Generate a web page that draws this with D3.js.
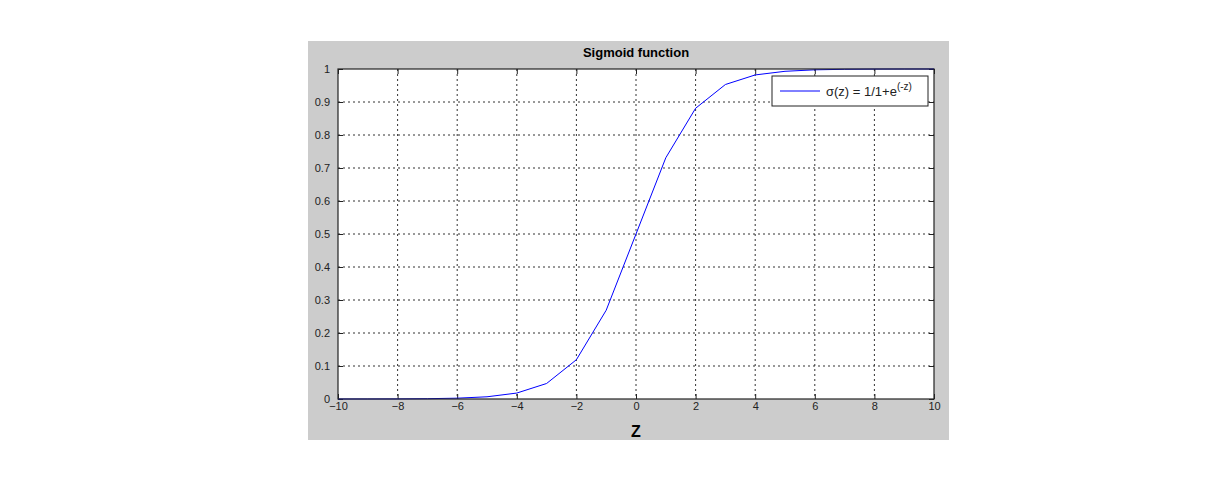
<!DOCTYPE html>
<html><head><meta charset="utf-8">
<script src="https://cdn.jsdelivr.net/npm/d3@7"></script>
<style>body{margin:0;background:#fff}svg{display:block}</style>
</head><body>
<svg id="c" width="1222" height="486"></svg>
<script>
var zValues = [-10,-9,-8,-7,-6,-5,-4,-3,-2,-1,0,1,2,3,4,5,6,7,8,9,10];
var sigValues = [0.00005,0.0001,0.0003,0.0009,0.0025,0.0067,0.018,0.047,0.119,0.269,0.5,0.731,0.881,0.953,0.982,0.993,0.9975,0.9991,0.9997,0.9999,0.99995];
var xTicks = [-10,-8,-6,-4,-2,0,2,4,6,8,10];
var yTicks = [0,0.1,0.2,0.3,0.4,0.5,0.6,0.7,0.8,0.9,1];

var svg = d3.select('#c');
var L = 338, R = 934, T = 69, B = 399;
var x = d3.scaleLinear().domain([-10,10]).range([L,R]);
var y = d3.scaleLinear().domain([0,1]).range([B,T]);

svg.append('rect').attr('x',308).attr('y',41).attr('width',641).attr('height',399).attr('fill','#cccccc');
svg.append('rect').attr('x',L).attr('y',T).attr('width',R-L).attr('height',B-T).attr('fill','#fff');

var grid = svg.append('g').attr('stroke','#333').attr('stroke-dasharray','2,3').attr('stroke-width',1);
xTicks.slice(1,-1).forEach(function(t){
  grid.append('line').attr('x1',x(t)).attr('x2',x(t)).attr('y1',T).attr('y2',B);
});
yTicks.slice(1,-1).forEach(function(t){
  grid.append('line').attr('x1',L).attr('x2',R).attr('y1',y(t)).attr('y2',y(t));
});

var font = 'Liberation Sans, Arial, sans-serif';
var xa = svg.append('g').attr('transform','translate(0,'+B+')')
  .call(d3.axisBottom(x).tickValues(xTicks).tickSize(-5).tickPadding(9).tickFormat(d3.format('d')));
var xt = svg.append('g').attr('transform','translate(0,'+T+')')
  .call(d3.axisTop(x).tickValues(xTicks).tickSize(-5).tickFormat(''));
var ya = svg.append('g').attr('transform','translate('+L+',0)')
  .call(d3.axisLeft(y).tickValues(yTicks).tickSize(-5).tickPadding(8).tickFormat(function(d){return d===0||d===1?d:d3.format('.1f')(d);}));
var yr = svg.append('g').attr('transform','translate('+R+',0)')
  .call(d3.axisRight(y).tickValues(yTicks).tickSize(-5).tickFormat(''));
[xa,xt,ya,yr].forEach(function(a){
  a.select('.domain').remove();
  a.selectAll('line').attr('stroke','#222');
  a.selectAll('text').attr('fill','#222').style('font-family',font).style('font-size','11px');
});
xa.selectAll('text').attr('dy','0.2em');

svg.append('path').datum(zValues.map(function(z,i){return [z,sigValues[i]];}))
  .attr('fill','none').attr('stroke','#0000ff').attr('stroke-width',1)
  .attr('d', d3.line().x(function(d){return x(d[0]);}).y(function(d){return y(d[1]);}));

svg.append('rect').attr('x',L).attr('y',T).attr('width',R-L).attr('height',B-T)
  .attr('fill','none').attr('stroke','#222').attr('stroke-width',1.2);

svg.append('text').attr('x',(L+R)/2).attr('y',57).attr('text-anchor','middle')
  .style('font-family',font).style('font-size','13px').style('font-weight','bold').text('Sigmoid function');
svg.append('text').attr('x',(L+R)/2).attr('y',437).attr('text-anchor','middle')
  .style('font-family',font).style('font-size','16px').style('font-weight','bold').text('Z');

var lg = svg.append('g');
lg.append('rect').attr('x',772).attr('y',76).attr('width',156).attr('height',30).attr('fill','#fff').attr('stroke','#222');
lg.append('line').attr('x1',780).attr('x2',820).attr('y1',91).attr('y2',91).attr('stroke','#0000ff');
var lt = lg.append('text').attr('x',826).attr('y',96).style('font-family',font).style('font-size','13px').attr('fill','#222');
lt.append('tspan').text('σ(z) = 1/1+e');
lt.append('tspan').attr('dy',-6).style('font-size','10px').text('(-z)');
</script>
</body></html>
